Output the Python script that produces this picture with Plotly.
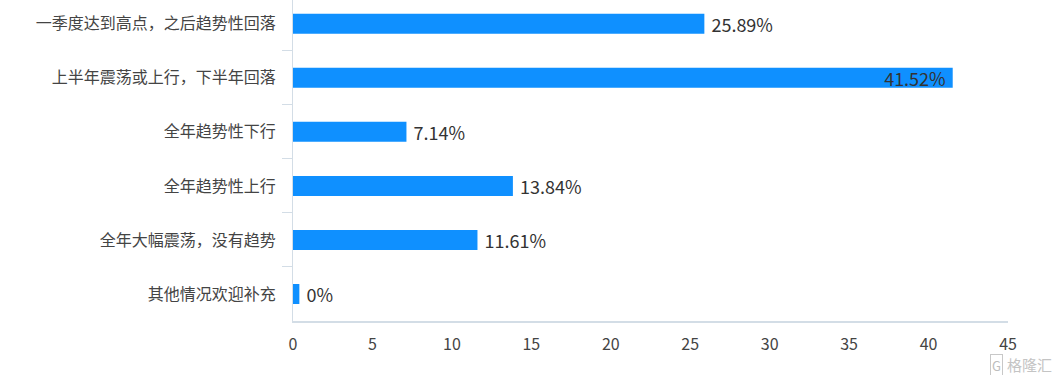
import plotly.graph_objects as go

categories = [
    "一季度达到高点，之后趋势性回落",
    "上半年震荡或上行，下半年回落",
    "全年趋势性下行",
    "全年趋势性上行",
    "全年大幅震荡，没有趋势",
    "其他情况欢迎补充",
]
values = [25.89, 41.52, 7.14, 13.84, 11.61, 0]
labels = ["25.89%", "41.52%", "7.14%", "13.84%", "11.61%", "0%"]
text_positions = ["outside", "inside", "outside", "outside", "outside", "outside"]
x_ticks = [0, 5, 10, 15, 20, 25, 30, 35, 40, 45]

MIN_VISIBLE = 0.4  # a zero bar still shows as a thin sliver
display_values = [max(v, MIN_VISIBLE) for v in values]

NB = "\u00a0"
templates = [
    (NB + "%{text}") if p == "outside" else ("%{text}" + NB)
    for p in text_positions
]

FONT = "Noto Sans CJK SC, Microsoft YaHei, sans-serif"
AXIS_COLOR = "#d3dde6"

fig = go.Figure(
    go.Bar(
        x=display_values,
        y=categories,
        orientation="h",
        marker=dict(color="#0f90ff", line=dict(width=0)),
        width=0.37,
        text=labels,
        texttemplate=templates,
        textposition=text_positions,
        insidetextanchor="end",
        constraintext="none",
        textfont=dict(family=FONT, size=18, color="#333333"),
        insidetextfont=dict(family=FONT, size=18, color="#333333"),
        outsidetextfont=dict(family=FONT, size=18, color="#333333"),
        cliponaxis=False,
        hoverinfo="skip",
    )
)

fig.update_layout(
    width=1060,
    height=375,
    margin=dict(l=293, r=52, t=0, b=54),
    paper_bgcolor="white",
    plot_bgcolor="white",
    showlegend=False,
    font=dict(family=FONT, color="#444444"),
    xaxis=dict(
        range=[0, 45],
        tickvals=x_ticks,
        ticktext=[str(t) for t in x_ticks],
        showgrid=False,
        zeroline=False,
        showline=True,
        linecolor=AXIS_COLOR,
        linewidth=2,
        ticks="",
        tickfont=dict(family=FONT, size=16, color="#444444"),
        ticklabelstandoff=8,
        automargin=False,
    ),
    yaxis=dict(
        range=[5.5, -0.44],
        showgrid=False,
        zeroline=False,
        showline=True,
        linecolor=AXIS_COLOR,
        linewidth=1,
        ticks="outside",
        tickson="boundaries",
        ticklen=10,
        tickcolor=AXIS_COLOR,
        tickwidth=1,
        tickfont=dict(family=FONT, size=16, color="#444444"),
        ticklabelstandoff=13,
        automargin=False,
    ),
)

fig.add_annotation(
    x=1.0, y=0, xref="paper", yref="paper", xanchor="right", yanchor="top",
    xshift=-5, yshift=-33,
    text="G", showarrow=False,
    font=dict(family=FONT, size=13, color="#bdbdbd"),
    bordercolor="#c8c8c8", borderwidth=1, borderpad=1,
)
fig.add_annotation(
    x=1.0, y=0, xref="paper", yref="paper", xanchor="left", yanchor="top",
    xshift=-3, yshift=-31,
    text="格隆汇", showarrow=False,
    font=dict(family=FONT, size=15, color="#c4c4c4"),
)

fig.write_html(
    "out.html",
    config={"displayModeBar": False},
    post_script="document.body.style.margin='0';",
)
